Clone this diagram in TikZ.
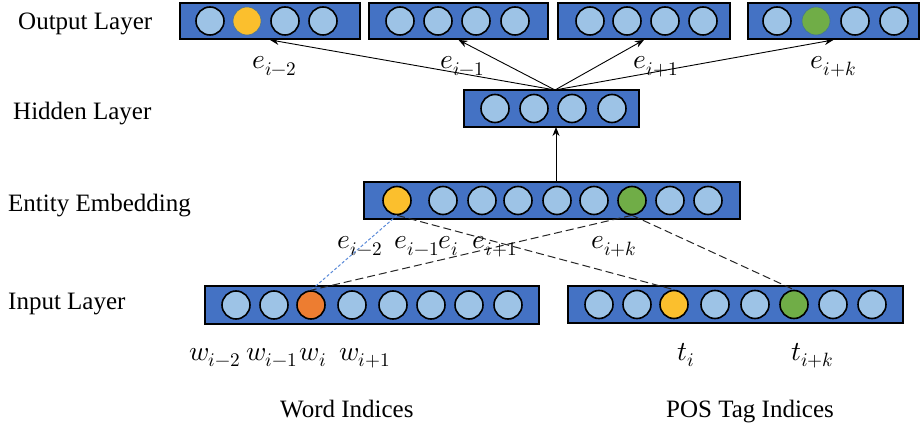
\documentclass[tikz,border=0pt]{standalone}
\usepackage{fontspec}
\usepackage{unicode-math}
\setmainfont{Liberation Serif}
\setmathfont{Latin Modern Math}
\usetikzlibrary{arrows.meta,calc}

\definecolor{boxblue}{HTML}{4472C4}
\definecolor{cirl}{HTML}{9DC3E6}
\definecolor{corange}{HTML}{ED7D31}
\definecolor{cyellow}{HTML}{FFC000}
\definecolor{softyellow}{HTML}{FBBF2D}
\definecolor{cgreen}{HTML}{70AD47}
\definecolor{rimblue}{HTML}{41719C}
\definecolor{dashblue}{HTML}{5B8BD9}

\tikzset{
  layerbox/.style={draw=black, line width=1.8pt, fill=boxblue, inner sep=0pt},
  dot/.style={circle, draw=black, line width=1.6pt, fill=cirl, minimum size=28pt, inner sep=0pt},
  odot/.style={dot, fill=corange},
  ydot/.style={dot, fill=softyellow},
  gdot/.style={dot, fill=cgreen},
  ydotsoft/.style={dot, fill=softyellow, draw=rimblue, line width=0.6pt},
  gdotsoft/.style={dot, fill=cgreen, draw=rimblue, line width=0.6pt},
  layername/.style={anchor=base west, inner sep=0pt, font=\fontsize{25}{30}\selectfont},
  idxname/.style={anchor=base west, inner sep=0pt, font=\fontsize{25}{30}\selectfont},
  sym/.style={anchor=base, inner sep=0pt, font=\fontsize{27.5}{32}\selectfont},
  arr/.style={-{Stealth[length=9pt,width=7pt]}, line width=0.9pt},
  blkdash/.style={draw=black!85, line width=1pt, dash pattern=on 8pt off 4pt},
  bludash/.style={draw=dashblue, line width=1pt, dash pattern=on 3pt off 2pt}
}

\begin{document}
\begin{tikzpicture}[x=1pt,y=-1pt]
\useasboundingbox[fill=white] (0,0) rectangle (923,430);

% layer names
\node[layername] (lout) at (18,30) {Output Layer};
\node[layername] (lhid) at (13,120) {Hidden Layer};
\node[layername] (lent) at (8,212) {Entity Embedding};
\node[layername] (linp) at (8,309) {Input Layer};
\node[idxname] (lword) at (280,417) {Word Indices};
\node[idxname] (lpos) at (666,417) {POS Tag Indices};

% output layer
\node[layerbox, minimum width=180pt, minimum height=36pt] (out1) at (270,21) {};
\node[layerbox, minimum width=179pt, minimum height=36pt] (out2) at (458.5,21) {};
\node[layerbox, minimum width=172pt, minimum height=36pt] (out3) at (644,21) {};
\node[layerbox, minimum width=171pt, minimum height=36pt] (out4) at (833.5,21) {};
\foreach \x/\s [count=\i] in {210/dot,247/ydotsoft,285/dot,323/dot}
  \node[\s] (oa\i) at (\x,21) {};
\foreach \x [count=\i] in {400,438,476,515}
  \node[dot] (ob\i) at (\x,21) {};
\foreach \x [count=\i] in {590,627,665,703}
  \node[dot] (oc\i) at (\x,21) {};
\foreach \x/\s [count=\i] in {777/dot,816/gdotsoft,855/dot,894/dot}
  \node[\s] (od\i) at (\x,21) {};

% hidden layer
\node[layerbox, minimum width=175pt, minimum height=37pt] (hid) at (551.5,108.5) {};
\foreach \x [count=\i] in {495,534,572,612}
  \node[dot] (h\i) at (\x,108.5) {};

% entity embedding
\node[layerbox, minimum width=376pt, minimum height=37pt] (ent) at (552,200.5) {};
\foreach \x/\s [count=\i] in {397/ydot,443/dot,482/dot,518/dot,557/dot,594/dot,632/gdot,670/dot,708/dot}
  \node[\s] (e\i) at (\x,200.5) {};

% input layer: word indices and POS tag indices
\node[layerbox, minimum width=334pt, minimum height=38pt] (word) at (372,305) {};
\foreach \x/\s [count=\i] in {236/dot,274/dot,311/odot,352/dot,393/dot,431/dot,469/dot,508/dot}
  \node[\s] (w\i) at (\x,305) {};
\node[layerbox, minimum width=335pt, minimum height=37pt] (pos) at (735.5,304.5) {};
\foreach \x/\s [count=\i] in {599/dot,637/dot,674/ydot,715/dot,755/dot,794/gdot,833/dot,872/dot}
  \node[\s] (p\i) at (\x,304.5) {};

% hidden -> output connections
\coordinate (hidtop) at (555,90);
\draw[arr] (hidtop) -- (out1.south);
\draw[arr] (hidtop) -- (out2.south);
\draw[arr] (hidtop) -- (out3.south);
\draw[arr] (hidtop) -- (out4.south);

% entity -> hidden
\coordinate (enttop) at (556,182);
\coordinate (hidbot) at (556,127);
\draw[arr] (enttop) -- (hidbot);

% entity <-> input links
\draw[bludash] (e1.south) -- (w3.north);
\draw[blkdash] (e1.south) -- (p3.north);
\draw[blkdash] (e7.south) -- (w3.north);
\draw[blkdash] (e7.south) -- (p6.north);

% output labels
\node[sym] (to1) at (274.5,69) {$e_{i-2}$};
\node[sym] (to2) at (462.5,69) {$e_{i-1}$};
\node[sym] (to3) at (656,69) {$e_{i+1}$};
\node[sym] (to4) at (833.5,69) {$e_{i+k}$};

% entity labels
\node[sym] (te1) at (360,249) {$e_{i-2}$};
\node[sym] (te2) at (417,249) {$e_{i-1}$};
\node[sym] (te3) at (448.5,249) {$e_{i}$};
\node[sym] (te4) at (495,249) {$e_{i+1}$};
\node[sym] (te5) at (614,249) {$e_{i+k}$};

% input labels
\node[sym] (tw1) at (215,360) {$w_{i-2}$};
\node[sym] (tw2) at (272,360) {$w_{i-1}$};
\node[sym] (tw3) at (313,360) {$w_{i}$};
\node[sym] (tw4) at (365,360) {$w_{i+1}$};
\node[sym] (tp1) at (686.5,360) {$t_{i}$};
\node[sym] (tp2) at (812.5,360) {$t_{i+k}$};
\end{tikzpicture}
\end{document}
